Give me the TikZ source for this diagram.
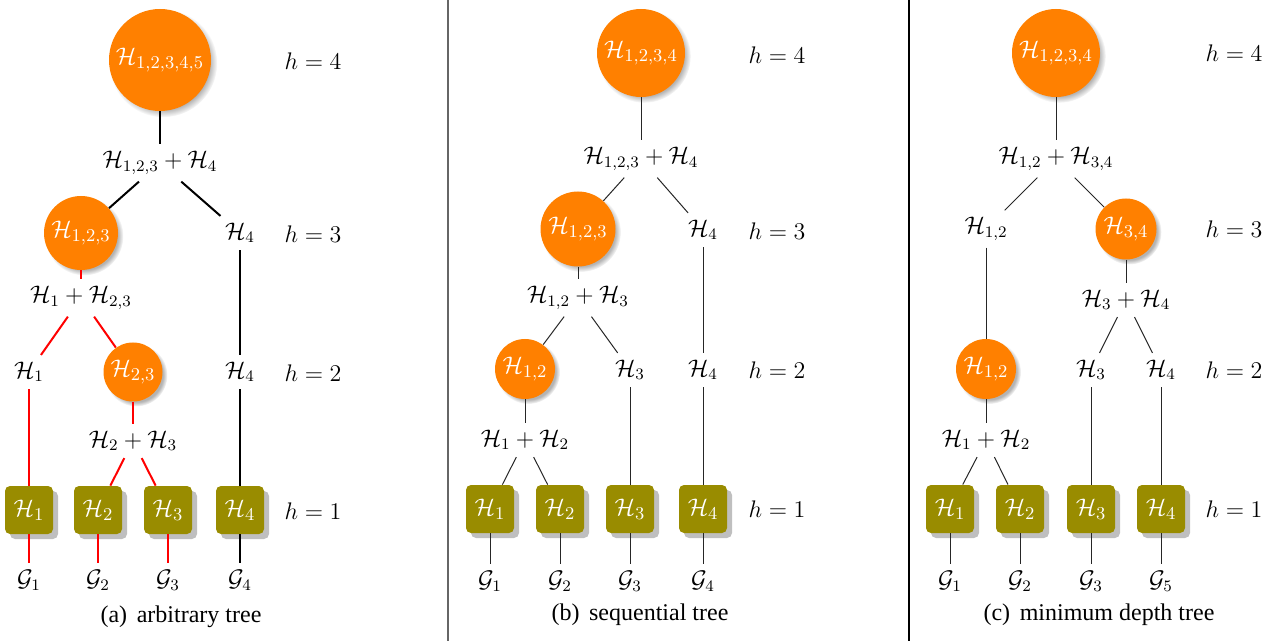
\documentclass[tikz,border=0pt]{standalone}
\usepackage{amsmath,amssymb,amsfonts}
\usepackage{fontspec}
\newfontfamily\capfont{Liberation Serif}
\usepackage{tikz}
\usetikzlibrary{positioning, shadows}
\definecolor{treeorange}{RGB}{255,128,0}
\definecolor{leafolive}{RGB}{153,140,0}

\begin{document}
\begin{tikzpicture}[
        x=0.5pt, y=-0.5pt,
        hball/.style={
            circle,
            fill=treeorange,
            text=white,
            inner sep=0pt,
            minimum size=#1,
            font=\fontsize{13}{15}\selectfont,
            circular drop shadow={shadow xshift=1.5pt, shadow yshift=-1.5pt, shadow scale=1.06, opacity=0.6}
        },
        leafbox/.style={
            rectangle,
            rounded corners=2.5pt,
            fill=leafolive,
            text=white,
            inner sep=0pt,
            minimum size=24pt,
            font=\fontsize{13}{15}\selectfont,
            drop shadow={shadow xshift=2.5pt, shadow yshift=-2.5pt, fill=black!25, opacity=1}
        },
        term/.style={font=\large},
        lvl/.style={font=\large},
        caption/.style={font=\large\capfont},
        boldlink/.style={line width=1pt, black},
        redlink/.style={line width=1pt, red},
        link/.style={line width=0.5pt, black!85}
    ]
    \useasboundingbox (0,0) rectangle (1279,641);

    % Separators
    \draw[line width=1pt, black!60] (448,0) -- (448,641);
    \draw[line width=1pt, black] (909,0) -- (909,641);

    % (a) arbitrary tree
    \node[hball=51pt] (a4) at (160,60) {$\mathcal{H}_{1,2,3,4,5}$};
    \node[term] (a4s) at (160,163) {$\mathcal{H}_{1,2,3}+\mathcal{H}_4$};
    \node[hball=37pt] (a3l) at (81,233) {$\mathcal{H}_{1,2,3}$};
    \node[term] (a3r) at (240,233) {$\mathcal{H}_4$};
    \node[term] (a3s) at (81,298) {$\mathcal{H}_1+\mathcal{H}_{2,3}$};
    \node[term] (a2a) at (29,372) {$\mathcal{H}_1$};
    \node[hball=29.5pt] (a2b) at (133,372) {$\mathcal{H}_{2,3}$};
    \node[term] (a2c) at (240,372) {$\mathcal{H}_4$};
    \node[term] (a2s) at (133,441) {$\mathcal{H}_2+\mathcal{H}_3$};
    \node[leafbox] (al1) at (29,510) {$\mathcal{H}_1$};
    \node[leafbox] (al2) at (98,510) {$\mathcal{H}_2$};
    \node[leafbox] (al3) at (168,510) {$\mathcal{H}_3$};
    \node[leafbox] (al4) at (240,510) {$\mathcal{H}_4$};
    \node[term] (ag1) at (29,580) {$\mathcal{G}_1$};
    \node[term] (ag2) at (98,580) {$\mathcal{G}_2$};
    \node[term] (ag3) at (168,580) {$\mathcal{G}_3$};
    \node[term] (ag4) at (240,580) {$\mathcal{G}_4$};
    \node[lvl] (ah4) at (313,61) {$h=4$};
    \node[lvl] (ah3) at (313,234) {$h=3$};
    \node[lvl] (ah2) at (313,373) {$h=2$};
    \node[lvl] (ah1) at (313,511) {$h=1$};
    \node[caption] (acap) at (181,617) {(a)\hspace{0.4em}arbitrary tree};

    \draw[boldlink] (a4) -- (a4s);
    \draw[boldlink] (a4s) -- (a3l);
    \draw[boldlink] (a4s) -- (a3r);
    \draw[boldlink] (a3r) -- (a2c);
    \draw[boldlink] (a2c) -- (al4);
    \draw[boldlink] (al4) -- (ag4);
    \draw[redlink] (a3l) -- (a3s);
    \draw[redlink] (a3s) -- (a2a);
    \draw[redlink] (a3s) -- (a2b);
    \draw[redlink] (a2a) -- (al1);
    \draw[redlink] (a2b) -- (a2s);
    \draw[redlink] (a2s) -- (al2);
    \draw[redlink] (a2s) -- (al3);
    \draw[redlink] (al1) -- (ag1);
    \draw[redlink] (al2) -- (ag2);
    \draw[redlink] (al3) -- (ag3);

    % (b) sequential tree
    \node[hball=44pt] (b4) at (641,53) {$\mathcal{H}_{1,2,3,4}$};
    \node[term] (b4s) at (641,159) {$\mathcal{H}_{1,2,3}+\mathcal{H}_4$};
    \node[hball=37.5pt] (b3l) at (578,229) {$\mathcal{H}_{1,2,3}$};
    \node[term] (b3r) at (703,230) {$\mathcal{H}_4$};
    \node[term] (b3s) at (578,298) {$\mathcal{H}_{1,2}+\mathcal{H}_3$};
    \node[hball=30pt] (b2a) at (525,369) {$\mathcal{H}_{1,2}$};
    \node[term] (b2b) at (630,370) {$\mathcal{H}_3$};
    \node[term] (b2c) at (703,370) {$\mathcal{H}_4$};
    \node[term] (b2s) at (525,440) {$\mathcal{H}_1+\mathcal{H}_2$};
    \node[leafbox] (bl1) at (490,509) {$\mathcal{H}_1$};
    \node[leafbox] (bl2) at (560,509) {$\mathcal{H}_2$};
    \node[leafbox] (bl3) at (630,509) {$\mathcal{H}_3$};
    \node[leafbox] (bl4) at (703,509) {$\mathcal{H}_4$};
    \node[term] (bg1) at (490,581) {$\mathcal{G}_1$};
    \node[term] (bg2) at (560,581) {$\mathcal{G}_2$};
    \node[term] (bg3) at (630,581) {$\mathcal{G}_3$};
    \node[term] (bg4) at (703,581) {$\mathcal{G}_4$};
    \node[lvl] (bh4) at (777,55) {$h=4$};
    \node[lvl] (bh3) at (777,231) {$h=3$};
    \node[lvl] (bh2) at (777,370) {$h=2$};
    \node[lvl] (bh1) at (777,509) {$h=1$};
    \node[caption] (bcap) at (640,615) {(b)\hspace{0.4em}sequential tree};

    \draw[link] (b4) -- (b4s);
    \draw[link] (b4s) -- (b3l);
    \draw[link] (b4s) -- (b3r);
    \draw[link] (b3l) -- (b3s);
    \draw[link] (b3s) -- (b2a);
    \draw[link] (b3s) -- (b2b);
    \draw[link] (b3r) -- (b2c);
    \draw[link] (b2a) -- (b2s);
    \draw[link] (b2s) -- (bl1);
    \draw[link] (b2s) -- (bl2);
    \draw[link] (b2b) -- (bl3);
    \draw[link] (b2c) -- (bl4);
    \draw[link] (bl1) -- (bg1);
    \draw[link] (bl2) -- (bg2);
    \draw[link] (bl3) -- (bg3);
    \draw[link] (bl4) -- (bg4);

    % (c) minimum depth tree
    \node[hball=44pt] (c4) at (1056,53) {$\mathcal{H}_{1,2,3,4}$};
    \node[term] (c4s) at (1056,159) {$\mathcal{H}_{1,2}+\mathcal{H}_{3,4}$};
    \node[term] (c3l) at (986,229) {$\mathcal{H}_{1,2}$};
    \node[hball=30.5pt] (c3r) at (1126,229) {$\mathcal{H}_{3,4}$};
    \node[term] (c3s) at (1126,300) {$\mathcal{H}_3+\mathcal{H}_4$};
    \node[hball=30pt] (c2a) at (986,369) {$\mathcal{H}_{1,2}$};
    \node[term] (c2b) at (1091,370) {$\mathcal{H}_3$};
    \node[term] (c2c) at (1161,370) {$\mathcal{H}_4$};
    \node[term] (c2s) at (986,440) {$\mathcal{H}_1+\mathcal{H}_2$};
    \node[leafbox] (cl1) at (950,509) {$\mathcal{H}_1$};
    \node[leafbox] (cl2) at (1020,509) {$\mathcal{H}_2$};
    \node[leafbox] (cl3) at (1091,509) {$\mathcal{H}_3$};
    \node[leafbox] (cl4) at (1161,509) {$\mathcal{H}_4$};
    \node[term] (cg1) at (950,581) {$\mathcal{G}_1$};
    \node[term] (cg2) at (1020,581) {$\mathcal{G}_2$};
    \node[term] (cg3) at (1091,581) {$\mathcal{G}_3$};
    \node[term] (cg4) at (1161,581) {$\mathcal{G}_5$};
    \node[lvl] (ch4) at (1234,53) {$h=4$};
    \node[lvl] (ch3) at (1234,229) {$h=3$};
    \node[lvl] (ch2) at (1234,370) {$h=2$};
    \node[lvl] (ch1) at (1234,509) {$h=1$};
    \node[caption] (ccap) at (1099,615) {(c)\hspace{0.4em}minimum depth tree};

    \draw[link] (c4) -- (c4s);
    \draw[link] (c4s) -- (c3l);
    \draw[link] (c4s) -- (c3r);
    \draw[link] (c3l) -- (c2a);
    \draw[link] (c3r) -- (c3s);
    \draw[link] (c3s) -- (c2b);
    \draw[link] (c3s) -- (c2c);
    \draw[link] (c2a) -- (c2s);
    \draw[link] (c2s) -- (cl1);
    \draw[link] (c2s) -- (cl2);
    \draw[link] (c2b) -- (cl3);
    \draw[link] (c2c) -- (cl4);
    \draw[link] (cl1) -- (cg1);
    \draw[link] (cl2) -- (cg2);
    \draw[link] (cl3) -- (cg3);
    \draw[link] (cl4) -- (cg4);

\end{tikzpicture}
\end{document}
